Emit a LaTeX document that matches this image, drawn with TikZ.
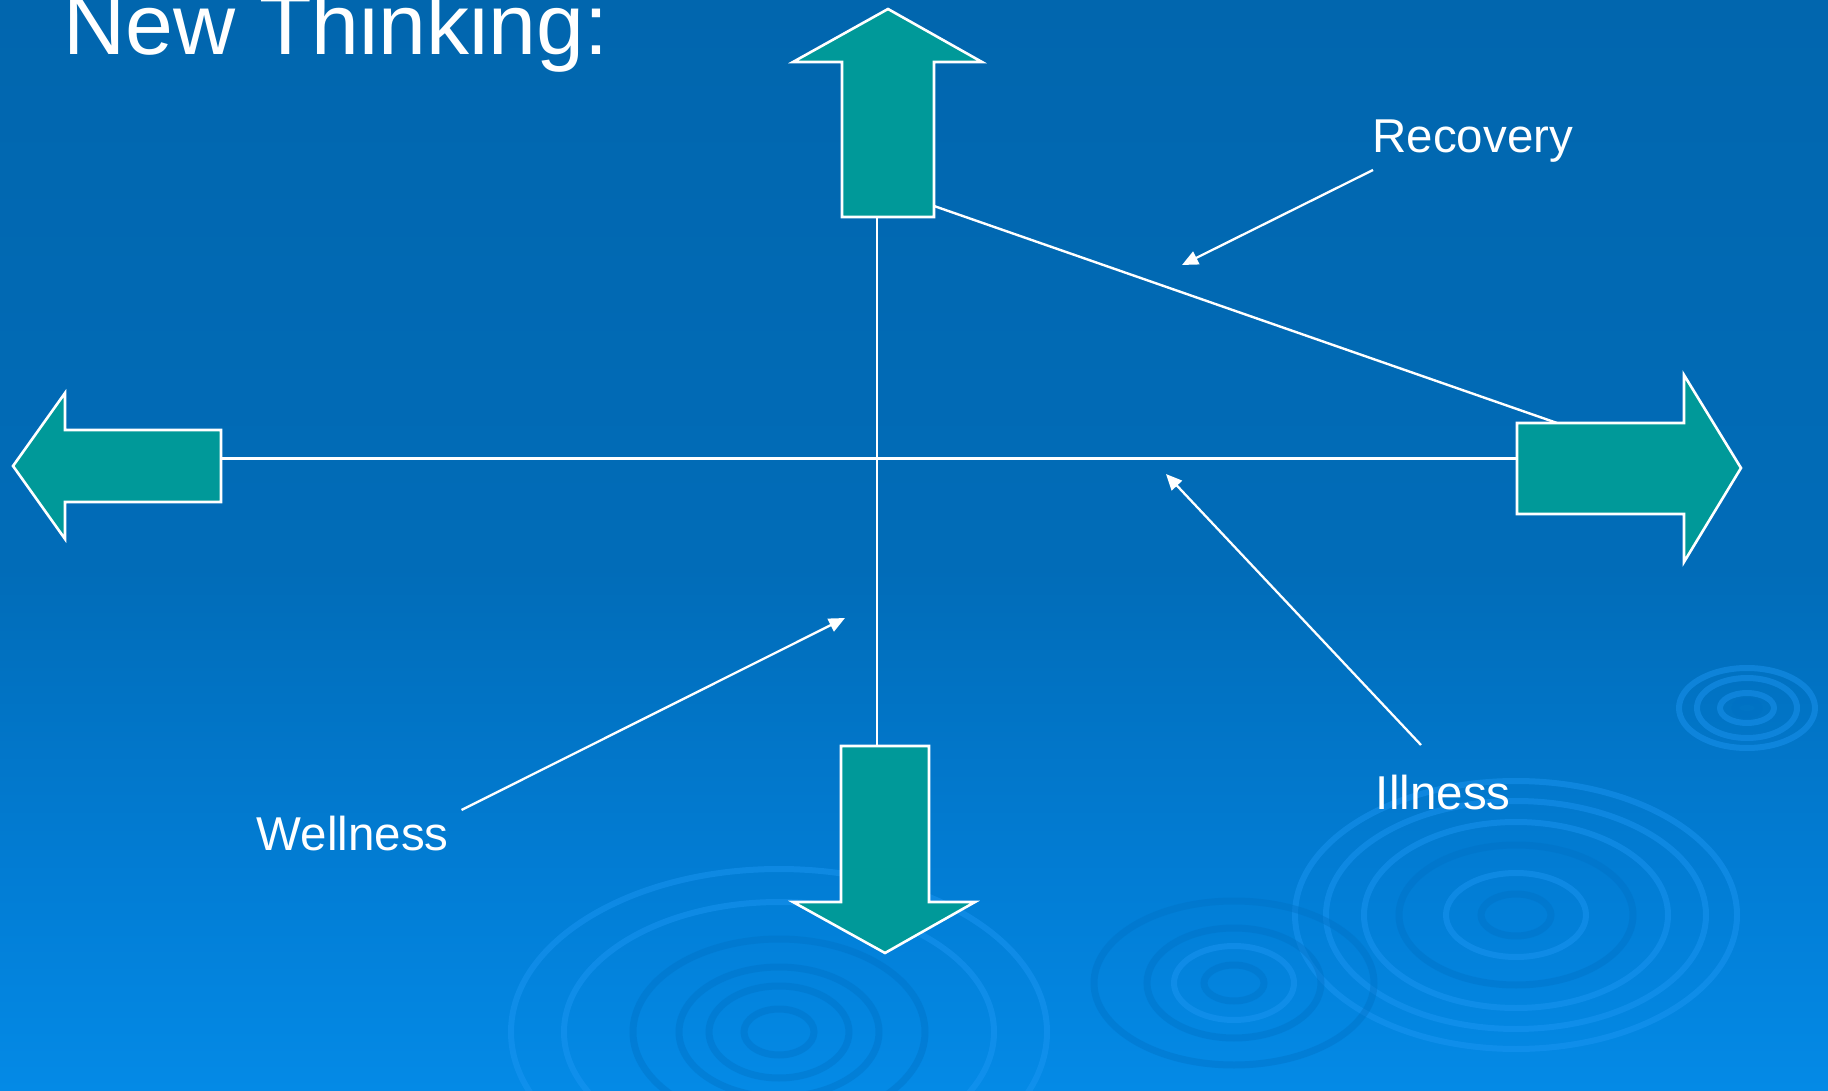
\documentclass[tikz,border=0pt]{standalone}
\usepackage{fontspec}
\setmainfont{Liberation Sans}
\usetikzlibrary{arrows.meta}
\definecolor{bgtop}{RGB}{1,102,174}
\definecolor{bgmid}{RGB}{1,108,184}
\definecolor{bglow}{RGB}{2,126,214}
\definecolor{bgbot}{RGB}{4,138,230}
\definecolor{arrowteal}{RGB}{0,153,153}
\definecolor{ripL}{RGB}{30,152,245}
\definecolor{ripD}{RGB}{0,112,196}
\pgfdeclareverticalshading{bgshade}{100bp}{color(0bp)=(bgbot); color(25bp)=(bgbot); color(34bp)=(bglow); color(49bp)=(bgmid); color(75bp)=(bgtop); color(100bp)=(bgtop)}
\tikzset{
  blockarrow/.style={fill=arrowteal, draw=white, line width=1.3pt, line join=miter},
  axisline/.style={draw=white, line width=1.2pt},
  pointer/.style={draw=white, line width=1.15pt, -{Triangle[length=8pt,width=7pt]}},
  lbl/.style={text=white, inner sep=0pt, anchor=base west, font=\fontsize{23.75}{28}\selectfont},
  ttl/.style={text=white, inner sep=0pt, anchor=base west, font=\fontsize{43}{50}\selectfont},
  ringL/.style={draw=ripL, line width=3pt, opacity=0.45},
  ringD/.style={draw=ripD, line width=3.5pt, opacity=0.4},
}
\begin{document}
\begin{tikzpicture}[x=0.5pt,y=-0.5pt]
\useasboundingbox (0,0) rectangle (1828,1091);
\shade[shading=bgshade] (0,0) rectangle (1828,1091);
% ripples
\begin{scope}
  \clip (0,0) rectangle (1828,1091);
  % big right ripple
  \draw[ringL] (1516,915) ellipse [x radius=221, y radius=134];
  \draw[ringL] (1516,915) ellipse [x radius=190, y radius=114];
  \draw[ringL] (1516,915) ellipse [x radius=152, y radius=93];
  \draw[ringD] (1516,915) ellipse [x radius=117, y radius=70];
  \draw[ringL] (1516,915) ellipse [x radius=70, y radius=42];
  \draw[ringD] (1516,915) ellipse [x radius=35, y radius=21];
  % middle ripple
  \draw[ringD] (1234,983) ellipse [x radius=140, y radius=82];
  \draw[ringD] (1234,983) ellipse [x radius=87, y radius=55];
  \draw[ringL] (1234,983) ellipse [x radius=60, y radius=37];
  \draw[ringD] (1234,983) ellipse [x radius=30, y radius=18];
  % left bottom ripple
  \draw[ringL] (779,1032) ellipse [x radius=268, y radius=163];
  \draw[ringL] (779,1032) ellipse [x radius=215, y radius=130];
  \draw[ringD] (779,1032) ellipse [x radius=146, y radius=93];
  \draw[ringD] (779,1032) ellipse [x radius=100, y radius=65];
  \draw[ringD] (779,1032) ellipse [x radius=70, y radius=46];
  \draw[ringD] (779,1032) ellipse [x radius=35, y radius=23];
  % small right ripple
  \draw[ringL] (1747,708) ellipse [x radius=68, y radius=40];
  \draw[ringL] (1747,708) ellipse [x radius=50, y radius=30];
  \draw[ringL] (1747,708) ellipse [x radius=27, y radius=15];
  \draw[ringD] (1747,708) ellipse [x radius=12, y radius=7];
\end{scope}
% connection coordinates
\coordinate (upB) at (877,217);
\coordinate (dnT) at (877,746);
\coordinate (lfR) at (221,458.5);
\coordinate (rtL) at (1517,458.5);
\coordinate (upR) at (934,206);
\coordinate (rtT) at (1557,423);
% axes
\draw[axisline] (lfR) -- (rtL);
\draw[axisline] (upB) -- (dnT);
\draw[axisline] (upR) -- (rtT);
% block arrows
\draw[blockarrow] (842,217) -- (842,62) -- (793,62) -- (888,9) -- (982,62) -- (934,62) -- (934,217) -- cycle;
\draw[blockarrow] (221,430) -- (65,430) -- (65,393) -- (13,466) -- (65,539) -- (65,502) -- (221,502) -- cycle;
\draw[blockarrow] (1517,423) -- (1684,423) -- (1684,375) -- (1741,468) -- (1684,562) -- (1684,514) -- (1517,514) -- cycle;
\draw[blockarrow] (841,746) -- (929,746) -- (929,902) -- (975,902) -- (885,953) -- (793,902) -- (841,902) -- cycle;
% texts
\node[ttl] (title) at (63,55) {New Thinking:};
\node[lbl] (rec) at (1372,153) {Recovery};
\node[lbl] (ill) at (1375.5,809) {Illness};
\node[lbl] (wel) at (256.5,850) {Wellness};
% pointers
\coordinate (recS) at (1373,170);
\coordinate (recT) at (1182,265);
\coordinate (illS) at (1421,745);
\coordinate (illT) at (1166,474);
\coordinate (welS) at (461.5,810);
\coordinate (welT) at (845,618);
\draw[pointer] (recS) -- (recT);
\draw[pointer] (illS) -- (illT);
\draw[pointer] (welS) -- (welT);
\end{tikzpicture}
\end{document}
